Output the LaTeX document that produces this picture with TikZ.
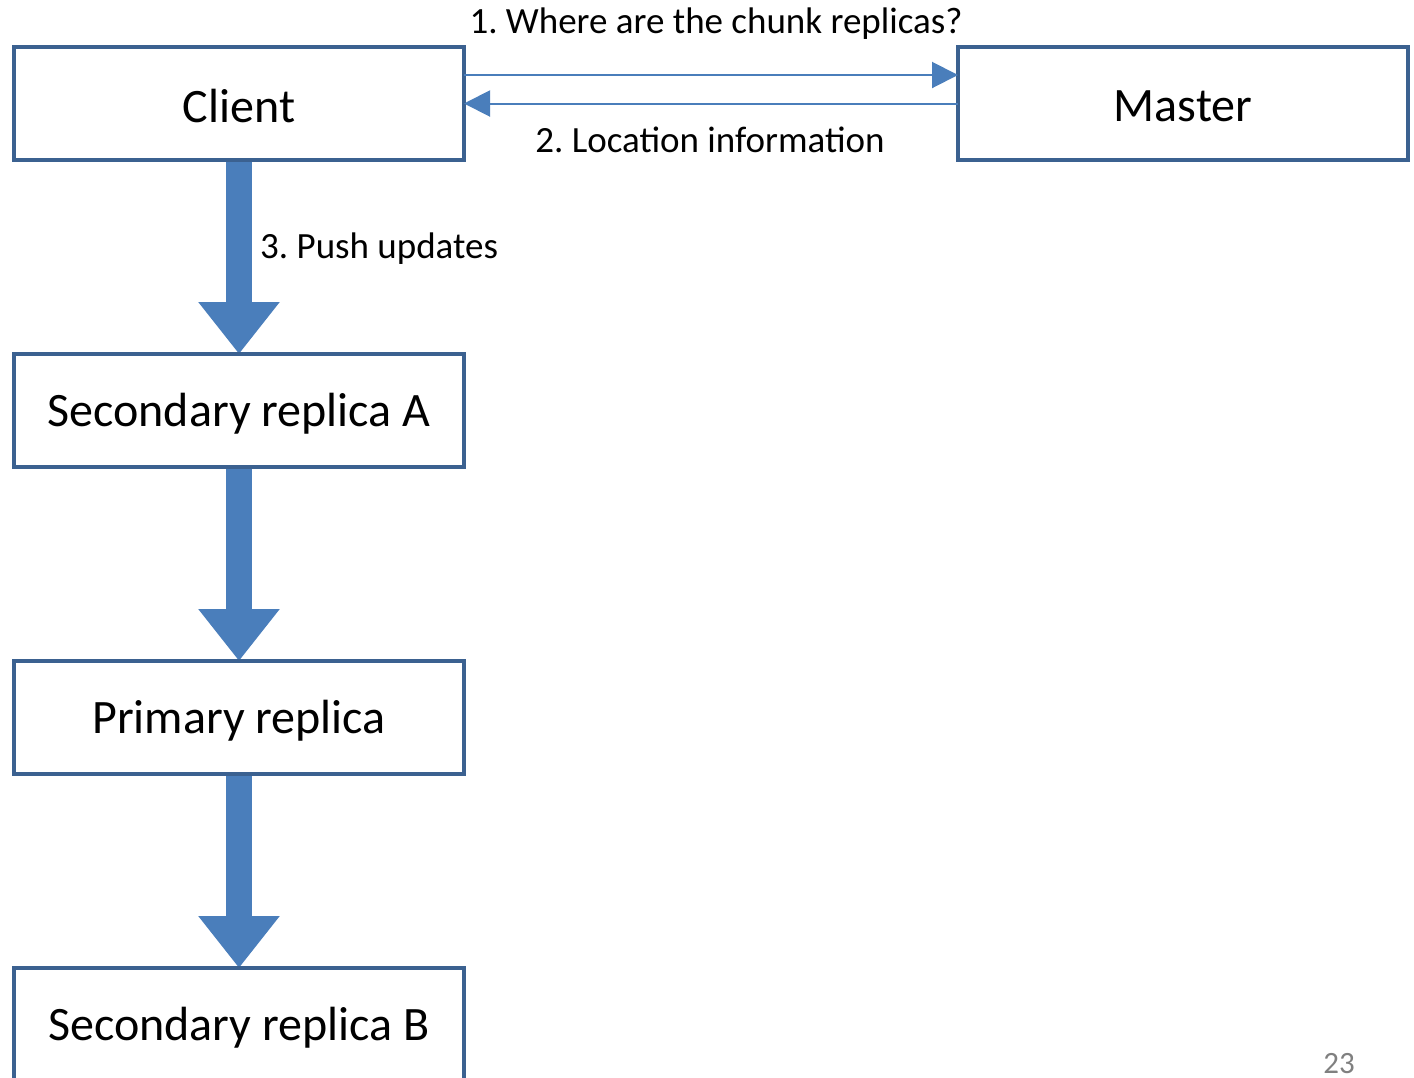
\documentclass[tikz,border=0pt]{standalone}
\usepackage{fontspec}
\setmainfont{Carlito}
\usetikzlibrary{arrows.meta}
\definecolor{boxline}{HTML}{3B6190}
\definecolor{arrowblue}{HTML}{4A7EBB}
\frenchspacing
\newcommand{\boxtext}[1]{\raisebox{-3pt}[\height][\depth]{#1}}
\begin{document}
\begin{tikzpicture}[x=1pt,y=-1pt,
  box/.style={draw=boxline, line width=4pt, fill=white, minimum width=450pt, minimum height=113pt, inner sep=0pt, outer sep=0pt, font=\fontsize{48}{56}\selectfont},
  thin/.style={draw=arrowblue, line width=2pt, -{Triangle[width=26pt,length=26pt]}},
  thick/.style={draw=arrowblue, line width=26pt, -{Triangle[width=78pt,length=52pt]}},
  lbl/.style={font=\fontsize{37}{44}\selectfont, inner sep=0pt}]
\fill[white] (0,0) rectangle (1414,1077);
\clip (0,0) rectangle (1414,1077);
\useasboundingbox (0,0) rectangle (1414,1077);
\draw[thick] (239,160) -- (239,354);
\draw[thick] (239,467) -- (239,661);
\draw[thick] (239,774) -- (239,968);
\node[box] (client) at (239,103.5) {\boxtext{Client}};
\node[box] (master) at (1183,103.5) {\boxtext{Master}};
\node[box] (secA) at (239,410.5) {\boxtext{Secondary replica A}};
\node[box] (prim) at (239,717.5) {\boxtext{Primary replica}};
\node[box] (secB) at (239,1024.5) {\boxtext{Secondary replica B}};
\draw[thin] ([yshift=28.5pt]client.east) -- ([yshift=28.5pt]master.west);
\draw[thin] (master.west) -- (client.east);
\node[lbl] (q1) at (716,24) {1. Where are the chunk replicas?};
\node[lbl] (q2) at (710,140) {2. Location information};
\node[lbl, anchor=west] (q3) at (260,249) {3. Push updates};
\node[lbl, text=gray, font=\fontsize{31}{36}\selectfont, anchor=base] (pg) at (1339,1073) {23};
\end{tikzpicture}
\end{document}
